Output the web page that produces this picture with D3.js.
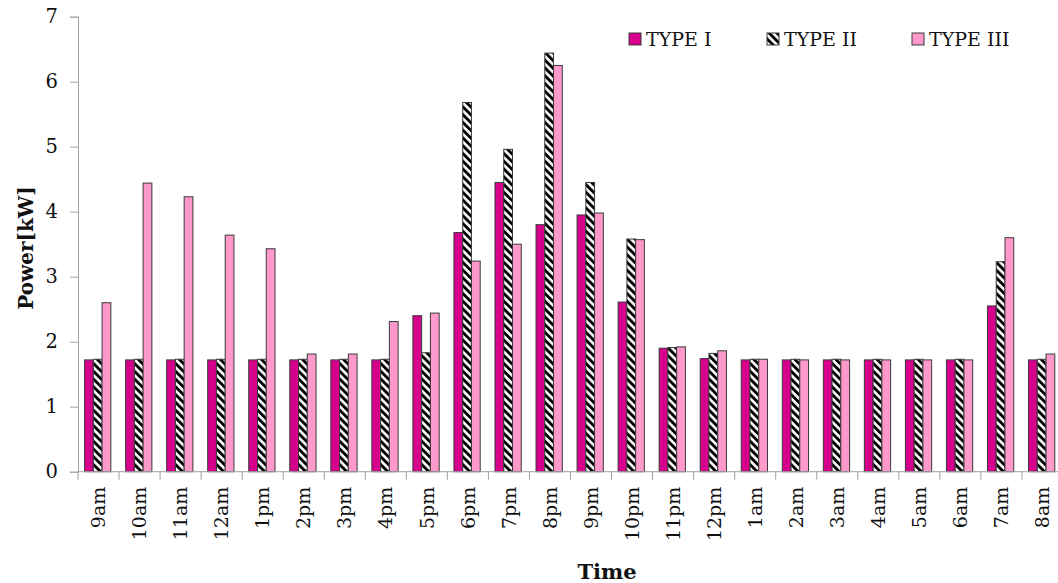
<!DOCTYPE html>
<html>
<head>
<meta charset="utf-8">
<script src="https://cdn.jsdelivr.net/npm/d3@7"></script>
<style>
  html, body { margin: 0; padding: 0; background: #fff; }
  svg { display: block; }
</style>
</head>
<body>
<svg id="chart" width="1058" height="583"></svg>
<script>
const categories = ["9am","10am","11am","12am","1pm","2pm","3pm","4pm","5pm","6pm","7pm","8pm","9pm","10pm","11pm","12pm","1am","2am","3am","4am","5am","6am","7am","8am"];
const seriesNames = ["TYPE I", "TYPE II", "TYPE III"];
const typeI   = [1.72,1.72,1.72,1.72,1.72,1.72,1.72,1.72,2.40,3.68,4.45,3.80,3.95,2.61,1.90,1.74,1.72,1.72,1.72,1.72,1.72,1.72,2.55,1.72];
const typeII  = [1.73,1.73,1.73,1.73,1.73,1.73,1.73,1.73,1.83,5.68,4.96,6.44,4.45,3.58,1.91,1.82,1.73,1.73,1.73,1.73,1.73,1.73,3.23,1.73];
const typeIII = [2.60,4.44,4.23,3.64,3.43,1.81,1.81,2.31,2.44,3.24,3.50,6.25,3.98,3.57,1.92,1.86,1.73,1.72,1.72,1.72,1.72,1.72,3.60,1.81];
const yTicks = [0,1,2,3,4,5,6,7];

(function () {
const seriesValues = [typeI, typeII, typeIII];
const svg = d3.select("#chart");
const FONT = "'DejaVu Serif', 'Liberation Serif', serif";
const axisColor = "#a0a0a0";
const textColor = "#111";

// hatch pattern for TYPE II
const defs = svg.append("defs");
const pat = defs.append("pattern")
  .attr("id", "hatch")
  .attr("patternUnits", "userSpaceOnUse")
  .attr("width", 5.5).attr("height", 5.5)
  .attr("patternTransform", "rotate(-45)");
pat.append("rect").attr("width", 5.5).attr("height", 5.5).attr("fill", "#fff");
pat.append("rect").attr("x", 0).attr("width", 2.9).attr("height", 5.5).attr("fill", "#000");

const fills = ["#d6008c", "url(#hatch)", "#ff99cc"];

const mLeft = 78, mRight = 1063, mTop = 16.7, mBottom = 471.7;

const x0 = d3.scaleBand().domain(categories).range([mLeft, mRight]).padding(0);
const bw = x0.bandwidth();
const x1 = d3.scaleBand().domain(seriesNames).range([bw * 0.16, bw * 0.80]).padding(0);
const y = d3.scaleLinear().domain([0, 7]).range([mBottom, mTop]);

// bars
const groups = svg.append("g").selectAll("g")
  .data(categories)
  .join("g")
  .attr("transform", d => `translate(${x0(d)},0)`);

groups.selectAll("rect")
  .data((c, i) => seriesNames.map((s, k) => ({ s, k, v: seriesValues[k][i] })))
  .join("rect")
  .attr("x", d => x1(d.s))
  .attr("y", d => y(d.v))
  .attr("width", x1.bandwidth())
  .attr("height", d => y(0) - y(d.v))
  .attr("fill", d => fills[d.k])
  .attr("stroke", "#3a3a3a")
  .attr("stroke-width", 1);

// y axis
const yAxis = d3.axisLeft(y).tickValues(yTicks).tickSize(8).tickPadding(12).tickFormat(d3.format("d"));
const gy = svg.append("g").attr("transform", `translate(${mLeft},0)`).call(yAxis);
gy.select(".domain").attr("stroke", axisColor);
gy.selectAll(".tick line").attr("stroke", axisColor);
gy.selectAll(".tick text").attr("font-family", FONT).attr("font-size", 19.5).attr("fill", textColor);

// x axis with ticks at band boundaries
const gx = svg.append("g").attr("transform", `translate(0,${mBottom})`);
gx.append("line").attr("x1", mLeft).attr("x2", mRight).attr("y1", 0).attr("y2", 0).attr("stroke", axisColor);
const boundaries = categories.map(c => x0(c)).concat([mRight]);
gx.selectAll("line.tk").data(boundaries).join("line")
  .attr("class", "tk")
  .attr("x1", d => d).attr("x2", d => d)
  .attr("y1", 0).attr("y2", 8)
  .attr("stroke", axisColor);
gx.selectAll("text").data(categories).join("text")
  .attr("transform", d => `translate(${x0(d) + bw / 2},15) rotate(-90)`)
  .attr("text-anchor", "end")
  .attr("dy", "0.35em")
  .attr("font-family", FONT)
  .attr("font-size", 19)
  .attr("fill", textColor)
  .text(d => d);

// axis titles
svg.append("text")
  .attr("transform", `translate(33,248) rotate(-90)`)
  .attr("text-anchor", "middle")
  .attr("font-family", FONT).attr("font-weight", "bold").attr("font-size", 20)
  .attr("fill", textColor)
  .text("Power[kW]");
svg.append("text")
  .attr("x", 607).attr("y", 579)
  .attr("text-anchor", "middle")
  .attr("font-family", FONT).attr("font-weight", "bold").attr("font-size", 21)
  .attr("fill", textColor)
  .text("Time");

// legend
const legendX = [629, 767, 912];
const lg = svg.append("g").selectAll("g").data(seriesNames).join("g")
  .attr("transform", (d, i) => `translate(${legendX[i]},33)`);
lg.append("rect").attr("width", 12).attr("height", 12)
  .attr("fill", (d, i) => fills[i]).attr("stroke", "#3a3a3a").attr("stroke-width", 1);
lg.append("text").attr("x", 17).attr("y", 13)
  .attr("font-family", FONT).attr("font-size", 19).attr("fill", textColor)
  .text(d => d);
})();
</script>
</body>
</html>
